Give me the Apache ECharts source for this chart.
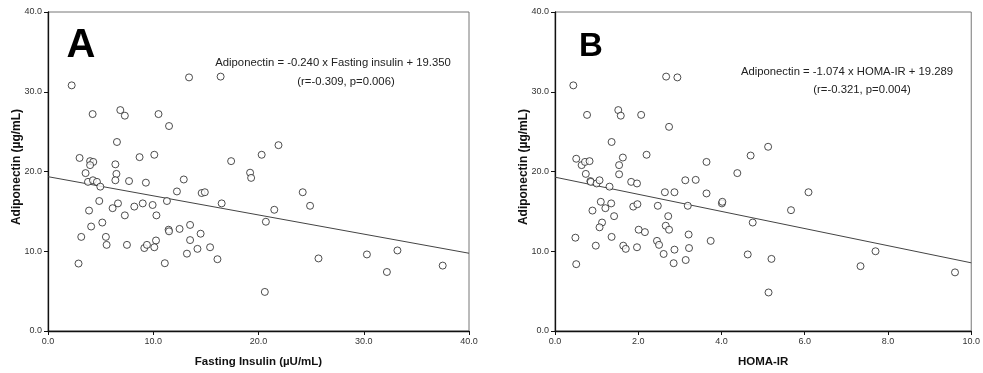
<!DOCTYPE html>
<html><head><meta charset="utf-8">
<script src="https://cdn.jsdelivr.net/npm/echarts@6/dist/echarts.min.js"></script>
<style>html,body{margin:0;padding:0;background:#fff}#c{width:983px;height:373px}</style>
</head><body><div id="c"></div>
<script>
// Panel A: Fasting insulin (µU/mL) vs Adiponectin (µg/mL)
const pointsA = [
[2.25,30.8],[13.4,31.8],[16.4,31.9],[4.24,27.2],[6.87,27.7],[7.3,27.0],[10.5,27.2],[11.5,25.7],
[6.55,23.7],[3.0,21.7],[4.0,21.3],[4.3,21.2],[4.0,20.8],[6.4,20.9],[8.7,21.8],[10.1,22.1],[17.4,21.3],
[3.57,19.8],[6.5,19.7],[3.8,18.7],[4.27,18.9],[4.65,18.7],[6.4,18.9],[7.7,18.8],[9.3,18.6],[12.9,19.0],
[19.2,19.85],[19.3,19.2],[21.9,23.3],[20.3,22.1],[4.97,18.1],[12.25,17.5],[14.6,17.3],[14.9,17.4],
[4.87,16.3],[11.3,16.3],[16.5,16.0],[6.65,16.0],[6.14,15.4],[8.2,15.6],[9.0,16.0],[9.94,15.8],
[3.9,15.1],[7.3,14.5],[10.3,14.5],[5.16,13.6],[4.1,13.1],[13.5,13.3],[12.5,12.8],[11.46,12.7],[11.5,12.5],
[3.16,11.8],[5.5,11.8],[14.5,12.2],[13.5,11.4],[10.26,11.35],[5.57,10.8],[7.5,10.8],[9.15,10.4],[9.4,10.8],
[10.1,10.5],[14.2,10.3],[15.4,10.5],[13.2,9.7],[16.1,9.0],[2.9,8.46],[11.1,8.5],
[24.2,17.4],[24.9,15.7],[21.5,15.2],[20.7,13.7],[25.7,9.1],[30.3,9.6],[33.2,10.1],[32.2,7.4],[37.5,8.2],[20.6,4.9]
];
// Panel B: HOMA-IR vs Adiponectin (µg/mL)
const pointsB = [
[0.44,30.8],[2.67,31.9],[2.94,31.8],[0.77,27.1],[1.52,27.7],[1.58,27.0],[2.07,27.1],[2.74,25.6],
[1.36,23.7],[0.51,21.6],[0.64,20.8],[0.72,21.2],[0.83,21.3],[1.63,21.75],[2.2,22.1],[1.54,20.8],
[1.54,19.65],[0.74,19.7],[3.64,21.2],[4.38,19.8],[5.12,23.1],[4.7,22.0],
[0.85,18.8],[0.86,18.7],[1.0,18.5],[1.07,18.9],[1.31,18.1],[1.83,18.7],[1.97,18.5],[3.13,18.9],[3.38,18.95],
[2.64,17.4],[2.87,17.4],[3.64,17.25],[1.1,16.2],[1.35,16.0],[0.9,15.1],[1.21,15.4],[1.88,15.6],[1.98,15.9],
[2.47,15.7],[3.19,15.7],[4.01,16.0],[4.02,16.2],[1.42,14.4],[2.72,14.4],[1.13,13.6],[1.07,13.0],[2.66,13.2],
[2.74,12.7],[2.01,12.7],[2.16,12.4],[3.21,12.1],[0.49,11.7],[1.36,11.8],[2.45,11.3],[2.5,10.8],[3.74,11.3],
[0.98,10.7],[1.64,10.7],[1.70,10.3],[1.97,10.5],[2.87,10.2],[3.22,10.4],[2.61,9.66],[3.14,8.9],[0.51,8.38],[2.85,8.5],
[6.09,17.4],[5.67,15.15],[4.75,13.6],[4.63,9.6],[5.2,9.04],[7.7,10.0],[7.34,8.13],[9.61,7.35],[5.13,4.83]
];
const lineA = [[0,19.35],[40,9.75]];
const lineB = [[0,19.289],[10,8.55]];
const textA = ['Adiponectin = -0.240 x Fasting insulin + 19.350','(r=-0.309, p=0.006)'];
const textB = ['Adiponectin = -1.074 x HOMA-IR + 19.289','(r=-0.321, p=0.004)'];
const xNameA = 'Fasting Insulin (µU/mL)';
const xNameB = 'HOMA-IR';
const yName = 'Adiponectin (µg/mL)';

const chart = echarts.init(document.getElementById('c'), null, {renderer:'canvas'});
const font = 'Liberation Sans, Arial, sans-serif';
function xAxis(idx, max, interval, name){
  return {gridIndex:idx, type:'value', min:0, max:max, interval:interval,
    name:name, nameLocation:'middle', nameGap:25,
    nameTextStyle:{fontFamily:font, fontWeight:'bold', fontSize:11.5, color:'#111'},
    axisLine:{show:true, onZero:false, lineStyle:{color:'#111', width:1.3}},
    axisTick:{show:true, inside:false, length:4, lineStyle:{color:'#111'}},
    axisLabel:{fontFamily:font, fontSize:9, color:'#333', margin:6, formatter:v=>v.toFixed(1)},
    splitLine:{show:false}};
}
function yAxis(idx){
  return {gridIndex:idx, type:'value', min:0, max:40, interval:10,
    axisLine:{show:true, onZero:false, lineStyle:{color:'#111', width:1.3}},
    axisTick:{show:true, inside:false, length:4, lineStyle:{color:'#111'}},
    axisLabel:{fontFamily:font, fontSize:9, color:'#333', margin:6, formatter:v=>v.toFixed(1)},
    splitLine:{show:false}};
}
const scatterStyle = {color:'#fff', borderColor:'#222', borderWidth:1};
const txt = '11.3px '+font;
chart.setOption({
  backgroundColor:'#fff',
  animation:false,
  grid:[
    {left:48, top:12, width:421, height:323, show:true, borderColor:'#777', borderWidth:1, backgroundColor:'#fff'},
    {left:555, top:12, width:419, height:323, show:true, borderColor:'#777', borderWidth:1, backgroundColor:'#fff'}
  ],
  xAxis:[xAxis(0,40,10,xNameA), xAxis(1,10,2,xNameB)],
  yAxis:[yAxis(0), yAxis(1)],
  series:[
    {type:'line', xAxisIndex:0, yAxisIndex:0, data:lineA, symbol:'none', lineStyle:{color:'#444', width:1}, z:1},
    {type:'scatter', xAxisIndex:0, yAxisIndex:0, data:pointsA, symbol:'circle', symbolSize:7, itemStyle:scatterStyle, z:2},
    {type:'line', xAxisIndex:1, yAxisIndex:1, data:lineB, symbol:'none', lineStyle:{color:'#444', width:1}, z:1},
    {type:'scatter', xAxisIndex:1, yAxisIndex:1, data:pointsB, symbol:'circle', symbolSize:7, itemStyle:scatterStyle, z:2}
  ],
  graphic:[
    {type:'text', x:81, y:46, style:{text:'A', font:'bold 40px '+font, fill:'#000', align:'center', verticalAlign:'middle'}},
    {type:'text', x:591, y:47, style:{text:'B', font:'bold 33px '+font, fill:'#000', align:'center', verticalAlign:'middle'}},
    {type:'text', x:17, y:167, rotation:Math.PI/2, style:{text:yName, font:'bold 12px '+font, fill:'#111', align:'center', verticalAlign:'middle'}},
    {type:'text', x:524, y:167, rotation:Math.PI/2, style:{text:yName, font:'bold 12px '+font, fill:'#111', align:'center', verticalAlign:'middle'}},
    {type:'text', x:333, y:62.5, style:{text:textA[0], font:txt, fill:'#222', align:'center', verticalAlign:'middle'}},
    {type:'text', x:346, y:81.5, style:{text:textA[1], font:txt, fill:'#222', align:'center', verticalAlign:'middle'}},
    {type:'text', x:847, y:71.5, style:{text:textB[0], font:txt, fill:'#222', align:'center', verticalAlign:'middle'}},
    {type:'text', x:862, y:89.5, style:{text:textB[1], font:txt, fill:'#222', align:'center', verticalAlign:'middle'}}
  ]
});
</script></body></html>
